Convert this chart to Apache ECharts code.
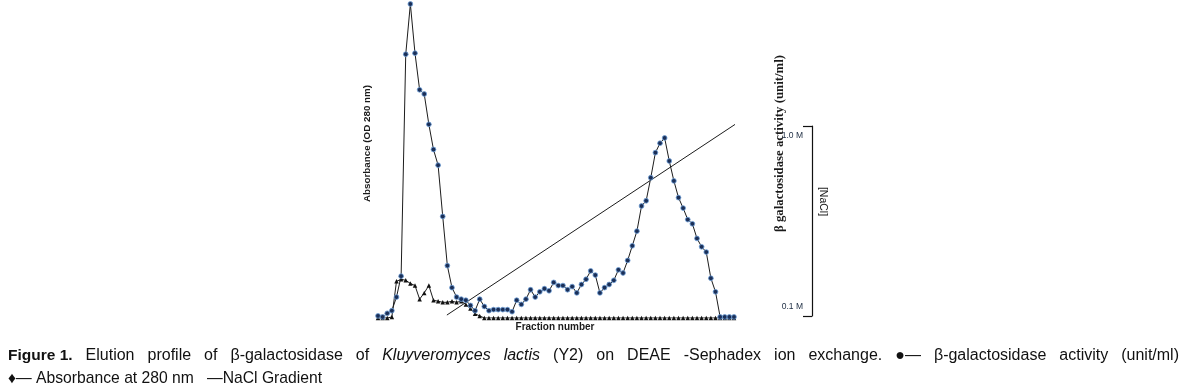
<!DOCTYPE html>
<html>
<head>
<meta charset="utf-8">
<script src="https://cdn.jsdelivr.net/npm/echarts@6/dist/echarts.min.js"></script>
<style>
html,body{margin:0;padding:0;background:#fff;}
#c{width:1187px;height:391px;}
</style>
</head>
<body>
<div id="c"></div>
<script>
// Fraction numbers (categories)
const fractions = [1,2,3,4,5,6,7,8,9,10,11,12,13,14,15,16,17,18,19,20,21,22,23,24,25,26,27,28,29,30,31,32,33,34,35,36,37,38,39,40,41,42,43,44,45,46,47,48,49,50,51,52,53,54,55,56,57,58,59,60,61,62,63,64,65,66,67,68,69,70,71,72,73,74,75,76,77,78];
// Series with round markers (absorbance, OD 280 nm)
const absorbance = [0.02,0.01,0.045,0.07,0.20,0.40,2.52,3.00,2.53,2.18,
  2.14,1.85,1.61,1.46,0.97,0.50,0.29,0.20,0.18,0.17,
  0.12,0.07,0.18,0.11,0.07,0.08,0.08,0.08,0.08,0.06,
  0.17,0.13,0.18,0.27,0.20,0.25,0.28,0.26,0.34,0.31,
  0.31,0.27,0.30,0.24,0.32,0.37,0.45,0.41,0.24,0.29,
  0.32,0.36,0.46,0.43,0.55,0.69,0.83,1.07,1.12,1.34,
  1.58,1.67,1.72,1.50,1.31,1.15,1.05,0.94,0.90,0.76,
  0.68,0.63,0.38,0.25,0.01,0.01,0.01,0.01];
// Series with triangle markers (β-galactosidase activity)
const activity = [0,0,0,0.01,0.35,0.37,0.36,0.33,0.31,0.18,
  0.24,0.31,0.17,0.16,0.15,0.15,0.16,0.15,0.16,0.13,
  0.09,0.04,0.02,0,0,0,0,0,0,0,
  0,0,0,0,0,0,0,0,0,0,
  0,0,0,0,0,0,0,0,0,0,
  0,0,0,0,0,0,0,0,0,0,
  0,0,0,0,0,0,0,0,0,0,
  0,0,0,0,0,0,0,0];
// NaCl gradient line: [fraction, molarity]
const naclGradient = [[15.9, 0.056],[78.7, 1.067]];
// Right bracket axis tick labels (M)
const naclTicks = [0.1, 1.0];
// Caption words
const captionLine1 = ['{b|Figure 1.}','Elution','profile','of','β-galactosidase','of','{i|Kluyveromyces}','{i|lactis}','(Y2)','on','DEAE','-Sephadex','ion','exchange.','●—','β-galactosidase','activity','(unit/ml)'];
const captionLine2 = '♦— Absorbance at 280 nm   —NaCl Gradient';

const chart = echarts.init(document.getElementById('c'), null, {renderer:'canvas'});
const lineCol = '#1c1c1c';
chart.setOption({
  animation:false,
  backgroundColor:'#ffffff',
  grid:[
    {left:378, right:453, top:4, bottom:73},
    {left:812, width:10, top:126, bottom:75}
  ],
  xAxis:[
    {type:'category', gridIndex:0, data:fractions, boundaryGap:false, show:false},
    {type:'value', gridIndex:0, min:1, max:78, show:false},
    {type:'value', gridIndex:1, show:false}
  ],
  yAxis:[
    {type:'value', gridIndex:0, min:0, max:3, show:false},
    {type:'value', gridIndex:0, min:0.0405, max:1.693, show:false},
    {type:'value', gridIndex:1, position:'left', min:0.051, max:1.051,
      axisLine:{show:true, lineStyle:{color:'#111', width:1.2}},
      axisTick:{show:true, length:9, inside:false, customValues:[0.051,1.051], lineStyle:{color:'#111', width:1.2}},
      axisLabel:{show:true, customValues:naclTicks, margin:9, fontSize:8.5, color:'#1a2a40',
        fontFamily:'Liberation Sans, Arial, sans-serif',
        formatter:function(v){return v.toFixed(1)+' M';}},
      splitLine:{show:false}
    }
  ],
  series:[
    {name:'Absorbance at 280 nm', type:'line', xAxisIndex:0, yAxisIndex:0, data:absorbance,
      symbol:'circle', symbolSize:4.8, showSymbol:true, showAllSymbol:true,
      itemStyle:{color:'#1b2f57', borderColor:'#6fa0d8', borderWidth:0.8},
      lineStyle:{color:lineCol, width:1}, z:3},
    {name:'β-galactosidase activity (unit/ml)', type:'line', xAxisIndex:0, yAxisIndex:0, data:activity,
      symbol:'triangle', symbolSize:4.5, showSymbol:true, showAllSymbol:true,
      itemStyle:{color:'#111'},
      lineStyle:{color:lineCol, width:1}, z:2},
    {name:'NaCl Gradient', type:'line', xAxisIndex:1, yAxisIndex:1, data:naclGradient,
      symbol:'none', clip:false, lineStyle:{color:lineCol, width:1}, z:1}
  ],
  graphic:[
    {type:'text', x:367.5, y:143.5, rotation:Math.PI/2,
      style:{text:'Absorbance (OD 280 nm)', fill:'#1a1a1a', align:'center', verticalAlign:'middle',
        font:'bold 9.8px "Liberation Sans", Arial, sans-serif'}},
    {type:'text', x:555, y:327.5,
      style:{text:'Fraction number', fill:'#1a1a1a', align:'center', verticalAlign:'middle',
        font:'bold 10px "Liberation Sans", Arial, sans-serif'}},
    {type:'text', x:779.5, y:143.5, rotation:Math.PI/2,
      style:{text:'β galactosidase activity (unit/ml)', fill:'#1a1a1a', align:'center', verticalAlign:'middle',
        font:'bold 12.8px "Liberation Serif", "Times New Roman", serif'}},
    {type:'text', x:822.5, y:201.5, rotation:-Math.PI/2,
      style:{text:'[NaCl]', fill:'#1a1a1a', align:'center', verticalAlign:'middle',
        font:'10.5px "Liberation Sans", Arial, sans-serif'}},
    {type:'text', x:8, y:356,
      style:{text:captionLine1.join('{s| }'),
        fill:'#111', align:'left', verticalAlign:'middle',
        font:'16px "Liberation Sans", Arial, sans-serif',
        rich:{
          b:{fontWeight:'bold', fontSize:15.5, fontFamily:'Liberation Sans', fill:'#111'},
          i:{fontStyle:'italic', fontSize:16, fontFamily:'Liberation Sans', fill:'#111'},
          s:{width:13, fontSize:16, fontFamily:'Liberation Sans'}
        }}},
    {type:'text', x:8, y:379,
      style:{text:captionLine2, fill:'#111', align:'left', verticalAlign:'middle',
        font:'15.7px "Liberation Sans", Arial, sans-serif'}}
  ]
});
</script>
</body>
</html>
